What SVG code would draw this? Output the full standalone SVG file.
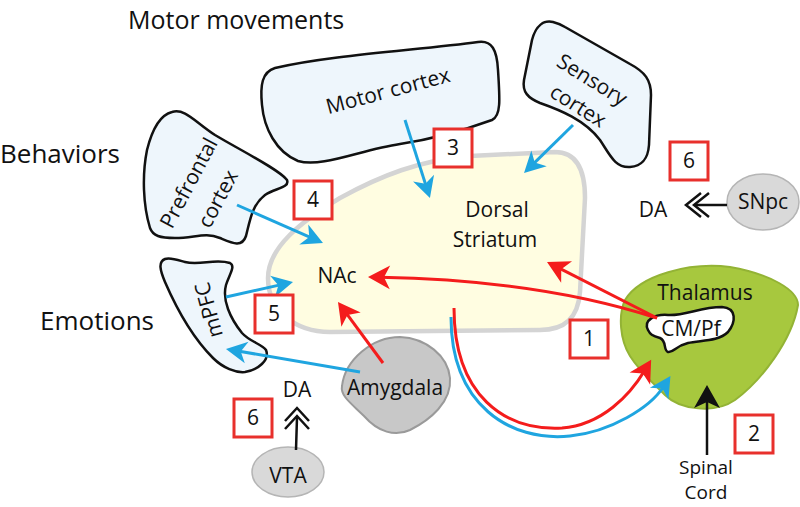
<svg xmlns="http://www.w3.org/2000/svg" width="800" height="507" viewBox="0 0 800 507">
<style>
text{font-family:"Open Sans","Noto Sans","DejaVu Sans",sans-serif;fill:#111;}
.big{font-size:26px;}
.lbl{font-size:21px;text-anchor:middle;}
.cortex{fill:#eef6fc;stroke:#111;stroke-width:2.5;stroke-linejoin:round;}
.num rect{fill:#fff;stroke:#e8302c;stroke-width:3;}
.num text{font-size:21px;text-anchor:middle;}
.blue{fill:none;stroke:#1fa5e0;stroke-width:3;}
.red{fill:none;stroke:#f41c1c;stroke-width:3;}
.blk{fill:none;stroke:#111;stroke-width:2.5;}
</style>
<defs>
<marker id="hb" markerUnits="userSpaceOnUse" viewBox="-24 -13 26 26" refX="-12" refY="0" markerWidth="26" markerHeight="26" orient="auto"><path d="M0,0 L-21,-11 L-15,0 L-21,11 Z" fill="#1fa5e0"/></marker>
<marker id="hr" markerUnits="userSpaceOnUse" viewBox="-24 -13 26 26" refX="-12" refY="0" markerWidth="26" markerHeight="26" orient="auto"><path d="M0,0 L-22,-12 L-16,0 L-22,12 Z" fill="#f41c1c"/></marker>
<marker id="hk" markerUnits="userSpaceOnUse" viewBox="-24 -14 26 28" refX="-12" refY="0" markerWidth="26" markerHeight="28" orient="auto"><path d="M0,0 L-23,-13 L-17,0 L-23,13 Z" fill="#111"/></marker>
</defs>
<rect width="800" height="507" fill="#fff"/>

<text class="big" x="128" y="29" style="font-size:25px">Motor movements</text>
<text class="big" x="0" y="163">Behaviors</text>
<text class="big" x="40" y="330">Emotions</text>

<g id="striatum">
<path d="M268,278 C268,248 300,222 340,198 C380,176 420,160 470,156 L555,152 C575,152 585,168 585,198 L580,292 C578,318 565,330 540,330 L330,332 C295,332 268,310 268,278 Z" fill="#fffde1" stroke="#d4d4d4" stroke-width="4.5"/>
<text class="lbl" x="497" y="217">Dorsal</text>
<text class="lbl" x="495" y="247">Striatum</text>
<text class="lbl" x="337" y="283">NAc</text>
</g>

<g id="motor-cortex">
<path class="cortex" d="M275,68 C262,72 260,85 262,105 C264,128 276,152 298,161 C322,168 360,150 400,144 C440,138 470,128 492,120 C501,116 500,100 498,70 C497,50 492,40 478,42 C420,50 330,55 275,68 Z"/>
<text class="lbl" transform="translate(388,91) rotate(-15)" y="7">Motor cortex</text>
</g>

<g id="sensory-cortex">
<path class="cortex" d="M553,22 C544,20 536,25 532,40 L524,80 C522,92 528,98 540,103 C560,110 585,120 600,140 C610,155 615,168 630,167 C643,166 648,158 649,145 L651,95 C651,80 645,72 630,64 L565,27 C560,24 557,23 553,22 Z"/>
<text class="lbl" transform="translate(592,80) rotate(32)" y="7">Sensory</text>
<text class="lbl" transform="translate(578,106) rotate(32)" y="7">cortex</text>
</g>

<g id="prefrontal-cortex">
<path class="cortex" d="M172,112 C160,115 152,130 147,150 C142,175 143,205 150,228 C153,236 160,238 175,238 C195,238 205,232 220,238 C232,243 242,248 246,236 C250,220 252,205 265,195 C275,188 290,188 287,180 C280,170 240,150 215,135 C195,122 185,108 172,112 Z"/>
<text class="lbl" transform="translate(189,183) rotate(-62)" y="7">Prefrontal</text>
<text class="lbl" transform="translate(218,199) rotate(-62)" y="7">cortex</text>
</g>

<g id="mpfc">
<path class="cortex" d="M165,259 C158,262 160,270 165,282 C175,305 190,335 213,358 C223,368 236,373 245,372 C258,370 270,360 266,350 C262,344 250,342 242,333 C230,318 222,300 226,285 C229,275 236,266 230,263 C215,258 200,266 185,262 C178,260 170,257 165,259 Z"/>
<text class="lbl" transform="translate(209,310) rotate(-105)" y="7">mPFC</text>
</g>

<g id="amygdala">
<path d="M342,386 C345,360 372,337 400,337 C426,338 448,356 450,378 C452,402 430,420 410,430 C395,437 378,432 364,416 C352,404 340,396 342,386 Z" fill="#c8c8c8" stroke="#9a9a9a" stroke-width="2"/>
<text class="lbl" x="395" y="395">Amygdala</text>
</g>

<g id="thalamus">
<path d="M625,300 C640,275 690,262 730,267 C770,274 798,290 798,305 C792,340 762,380 735,400 C715,414 680,410 665,395 C652,382 640,372 630,356 C620,340 618,315 625,300 Z" fill="#a7c83e" stroke="#93b335" stroke-width="2"/>
<text class="lbl" x="705" y="300">Thalamus</text>
</g>

<g id="cm-pf">
<path d="M648,330 C643,320 655,314 668,315 C685,316 700,307 722,307 C737,308 736,322 728,332 C718,342 700,340 688,343 C675,346 674,353 668,352 C663,350 667,341 660,338 C652,336 650,334 648,330 Z" fill="#fff" stroke="#111" stroke-width="2.5"/>
<text class="lbl" x="691" y="336">CM/Pf</text>
</g>

<g id="snpc">
<ellipse cx="763" cy="202" rx="36" ry="28" fill="#d9d9d9" stroke="#b5b5b5" stroke-width="1.5"/>
<text class="lbl" x="763" y="209">SNpc</text>
</g>

<g id="vta">
<ellipse cx="288" cy="472" rx="36" ry="25" fill="#d9d9d9" stroke="#b5b5b5" stroke-width="1.5"/>
<text class="lbl" x="288" y="483">VTA</text>
</g>

<g id="da-right"><text class="lbl" x="653" y="217">DA</text></g>
<g id="da-left"><text class="lbl" x="297" y="397">DA</text></g>
<g id="spinal-cord">
<text class="lbl" x="706" y="474" style="font-size:19px">Spinal</text>
<text class="lbl" x="706" y="499" style="font-size:19px">Cord</text>
</g>

<g id="connectors">
<line class="blue" x1="405" y1="120" x2="426.3" y2="186.6" marker-end="url(#hb)"/>
<line class="blue" x1="573" y1="125" x2="532.6" y2="164.6" marker-end="url(#hb)"/>
<line class="blue" x1="237" y1="205" x2="312" y2="238.2" marker-end="url(#hb)"/>
<line class="blue" x1="226" y1="297" x2="281.3" y2="284.6" marker-end="url(#hb)"/>
<line class="blue" x1="360" y1="372" x2="237.8" y2="351" marker-end="url(#hb)"/>
<path class="blue" d="M451,317 C451,405 510,442 570,436 C610,432 650,408 664,386" marker-end="url(#hb)"/>
<path class="red" d="M454,308 C454,396 505,431 562,428 C602,425 630,395 645,370" marker-end="url(#hr)"/>
<path class="red" d="M657,318 Q540,280 380,277.2" marker-end="url(#hr)"/>
<line class="red" x1="657" y1="318" x2="557.7" y2="267.4" marker-end="url(#hr)"/>
<line class="red" x1="383" y1="363" x2="345.1" y2="311.7" marker-end="url(#hr)"/>
<line class="blk" x1="707" y1="455" x2="707" y2="397" marker-end="url(#hk)"/>
<line class="blk" x1="727" y1="205" x2="695" y2="205"/>
<polyline class="blk" points="701,193 686,205 701,217"/>
<polyline class="blk" points="709,193 694,205 709,217"/>
<line class="blk" x1="296" y1="450" x2="297" y2="417"/>
<polyline class="blk" points="285,421 297,408 309,421"/>
<polyline class="blk" points="285,429 297,416 309,429"/>
</g>

<g id="num-1" class="num"><rect x="570" y="320" width="38" height="38"/><text x="589" y="346">1</text></g>
<g id="num-2" class="num"><rect x="735" y="415" width="38" height="38"/><text x="754" y="441">2</text></g>
<g id="num-3" class="num"><rect x="434" y="129" width="38" height="38"/><text x="453" y="155">3</text></g>
<g id="num-4" class="num"><rect x="294" y="181" width="38" height="38"/><text x="313" y="207">4</text></g>
<g id="num-5" class="num"><rect x="255" y="295" width="38" height="38"/><text x="274" y="321">5</text></g>
<g id="num-6a" class="num"><rect x="670" y="142" width="38" height="38"/><text x="689" y="168">6</text></g>
<g id="num-6b" class="num"><rect x="234" y="399" width="38" height="38"/><text x="253" y="425">6</text></g>
</svg>
